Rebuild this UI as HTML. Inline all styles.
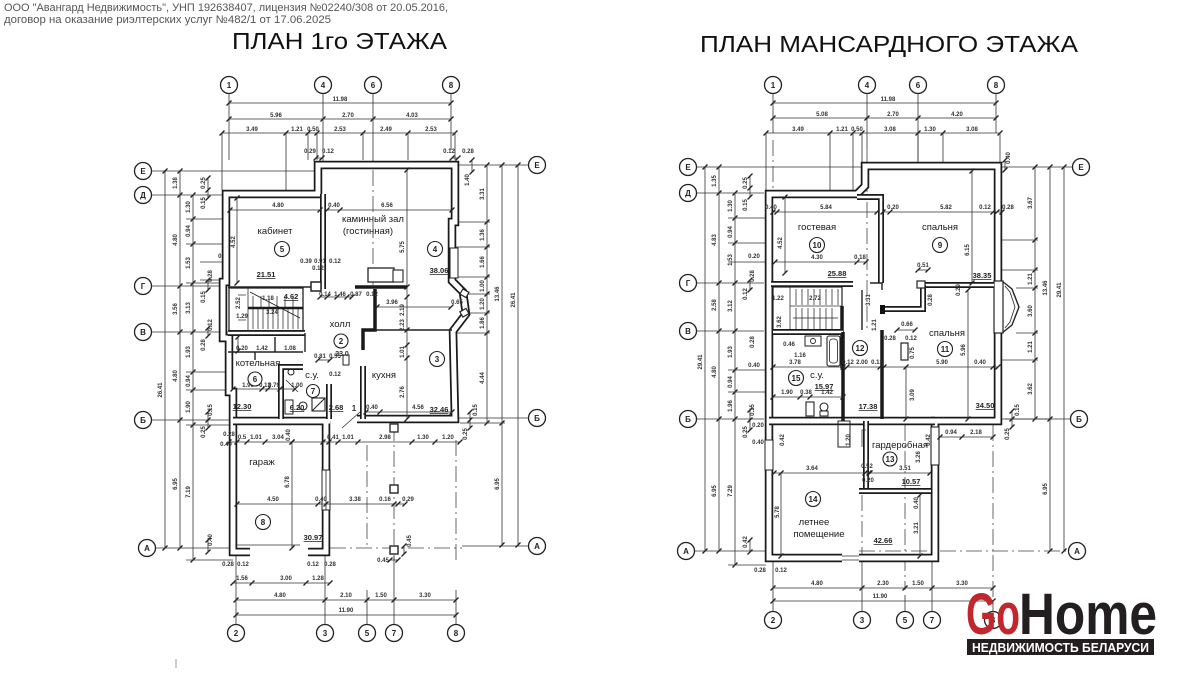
<!DOCTYPE html>
<html><head><meta charset="utf-8">
<style>
html,body{margin:0;padding:0;background:#fff;}
svg{display:block}
text{font-family:"Liberation Sans",Arial,sans-serif;fill:#222}
.hd{font-size:11px;fill:#555}
.ttl{font-size:23px;fill:#111}
.d{stroke:#333;stroke-width:0.8;fill:none}
.dm{fill:none;stroke:#333;stroke-width:0.8;marker-start:url(#k);marker-mid:url(#k);marker-end:url(#k)}
.ax{stroke:#444;stroke-width:0.8;fill:none;stroke-dasharray:16 4 2 4}
.c{fill:#fff;stroke:#222;stroke-width:1.3}
.cl{font-size:8px;font-weight:bold;text-anchor:middle}
.rc{fill:#fff;stroke:#222;stroke-width:1.1}
.rl{font-size:8px;text-anchor:middle;font-weight:bold}
.s{font-size:6px;text-anchor:middle;fill:#333;font-weight:bold}
.w1{fill:none;stroke:#1a1a1a;stroke-width:8.5;stroke-linejoin:miter}
.w2{fill:none;stroke:#fff;stroke-width:5;stroke-linejoin:miter}
.i1{fill:none;stroke:#1a1a1a;stroke-width:6}
.i2{fill:none;stroke:#fff;stroke-width:2.6}
.sl{fill:none;stroke:#222;stroke-width:1.4}
.th{fill:none;stroke:#1a1a1a;stroke-width:3.5}
.rm{font-size:9.5px;text-anchor:middle;fill:#1a1a1a}
.ar{font-size:7.5px;text-anchor:middle;font-weight:bold;fill:#222;text-decoration:underline}
</style></head>
<body>
<svg width="1200" height="675" viewBox="0 0 1200 675" xmlns="http://www.w3.org/2000/svg">
<defs>
<marker id="k" markerWidth="8" markerHeight="8" refX="4" refY="4" markerUnits="userSpaceOnUse"><path d="M1.5 6.5 L6.5 1.5" stroke="#222" stroke-width="1.3"/></marker>
</defs>
<rect width="1200" height="675" fill="#fff"/>

<!-- header -->
<text class="hd" x="4" y="11" textLength="444" lengthAdjust="spacingAndGlyphs">ООО "Авангард Недвижимость", УНП 192638407, лицензия №02240/308 от 20.05.2016,</text>
<text class="hd" x="4" y="23" textLength="327" lengthAdjust="spacingAndGlyphs">договор на оказание риэлтерских услуг №482/1 от 17.06.2025</text>

<text class="ttl" x="232" y="49" textLength="215" lengthAdjust="spacingAndGlyphs">ПЛАН 1го ЭТАЖА</text>
<text class="ttl" x="700" y="52" textLength="378" lengthAdjust="spacingAndGlyphs">ПЛАН МАНСАРДНОГО ЭТАЖА</text>

<line x1="176" y1="659" x2="176" y2="668" stroke="#999" stroke-width="1"/>

<!-- ================= LEFT PLAN ================= -->
<g>
<path class="d" d="M229,94V150 M323,94V165 M373,94V165 M451,94V150 M229,148V160"/>
<path class="ax" d="M373,170V285"/>
<path class="d" d="M152,171H318 M152,195H222 M152,286H222 M152,332H228 M152,420H229 M152,548H232 M528,165H458 M528,418H459 M528,546H462"/>
<path class="ax" d="M330,548H462 M367,445V548 M456,440V560 M394,425V560"/>
<path class="d" d="M236,624V556 M325,624V556 M367,624V590 M394,624V556 M456,624V590"/>

<polyline class="dm" points="229,103 451,103"/>
<polyline class="dm" points="229,119 323,119 373,119 451,119"/>
<polyline class="dm" points="222,133 286,133 308,133 317,133 363,133 408,133 455,133"/>
<path class="d" d="M222,133V190 M286,133V190 M308,133V160 M317,133V160 M363,133V160 M408,133V160 M455,133V160"/>
<text class="s" x="340" y="101">11.98</text>
<text class="s" x="276" y="117">5.96</text><text class="s" x="348" y="117">2.70</text><text class="s" x="412" y="117">4.03</text>
<text class="s" x="252" y="131">3.49</text><text class="s" x="297" y="131">1.21</text><text class="s" x="313" y="131">0.50</text><text class="s" x="340" y="131">2.53</text><text class="s" x="386" y="131">2.49</text><text class="s" x="431" y="131">2.53</text>
<text class="s" x="310" y="153">0.29</text><text class="s" x="328" y="153">0.12</text><text class="s" x="449" y="153">0.12</text><text class="s" x="468" y="153">0.28</text>
<polyline class="dm" points="316,158 322,158"/><polyline class="dm" points="452,158 458,158"/>

<polyline class="dm" points="165,171 165,548"/>
<text class="s" transform="translate(162,390) rotate(-90)">26.41</text>
<polyline class="dm" points="180,171 180,195 180,286 180,332 180,420 180,548"/>
<text class="s" transform="translate(177,183) rotate(-90)">1.38</text>
<text class="s" transform="translate(177,240) rotate(-90)">4.80</text>
<text class="s" transform="translate(177,309) rotate(-90)">3.56</text>
<text class="s" transform="translate(177,376) rotate(-90)">4.80</text>
<text class="s" transform="translate(177,484) rotate(-90)">6.95</text>
<polyline class="dm" points="193,195 193,219 193,244 193,283 193,332 193,372 193,390 193,425 193,560"/>
<text class="s" transform="translate(190,207) rotate(-90)">1.30</text>
<text class="s" transform="translate(190,231) rotate(-90)">0.94</text>
<text class="s" transform="translate(190,263) rotate(-90)">1.53</text>
<text class="s" transform="translate(190,308) rotate(-90)">3.13</text>
<text class="s" transform="translate(190,352) rotate(-90)">1.93</text>
<text class="s" transform="translate(190,381) rotate(-90)">0.94</text>
<text class="s" transform="translate(190,407) rotate(-90)">1.90</text>
<text class="s" transform="translate(190,492) rotate(-90)">7.19</text>
<polyline class="dm" points="208,178 208,190 208,198"/>
<polyline class="dm" points="208,280 208,290"/>
<polyline class="dm" points="208,328 208,336"/>
<polyline class="dm" points="208,412 208,420 208,428"/>
<polyline class="dm" points="208,540 208,552"/>
<text class="s" transform="translate(205,183) rotate(-90)">0.25</text>
<text class="s" transform="translate(205,203) rotate(-90)">0.15</text>
<text class="s" x="224" y="258">0.70</text>
<text class="s" transform="translate(212,276) rotate(-90)">0.28</text>
<text class="s" transform="translate(205,297) rotate(-90)">0.15</text>
<text class="s" transform="translate(212,325) rotate(-90)">0.12</text>
<text class="s" transform="translate(205,345) rotate(-90)">0.28</text>
<text class="s" transform="translate(212,410) rotate(-90)">0.15</text>
<text class="s" transform="translate(205,432) rotate(-90)">0.25</text>
<text class="s" transform="translate(212,540) rotate(-90)">0.40</text>
<path class="d" d="M186,219H225 M186,244H225 M186,283H226 M186,372H229 M186,390H233 M186,425H233 M186,560H233 M200,262H222 M200,280H226"/>

<polyline class="dm" points="487,165 487,222 487,247 487,277 487,294 487,313 487,333 487,423"/>
<path class="d" d="M458,222H490 M456,247H490 M456,277H490 M468,294H490 M468,313H490 M456,333H490 M460,423H505"/>
<text class="s" transform="translate(484,194) rotate(-90)">3.31</text>
<text class="s" transform="translate(484,235) rotate(-90)">1.36</text>
<text class="s" transform="translate(484,262) rotate(-90)">1.66</text>
<text class="s" transform="translate(484,286) rotate(-90)">1.00</text>
<text class="s" transform="translate(484,304) rotate(-90)">1.20</text>
<text class="s" transform="translate(484,323) rotate(-90)">1.86</text>
<text class="s" transform="translate(484,378) rotate(-90)">4.44</text>
<polyline class="dm" points="502,165 502,423 502,545"/>
<text class="s" transform="translate(499,294) rotate(-90)">13.46</text>
<text class="s" transform="translate(499,484) rotate(-90)">6.95</text>
<polyline class="dm" points="518,165 518,545"/>
<text class="s" transform="translate(515,300) rotate(-90)">26.41</text>
<polyline class="dm" points="472,160 472,172"/>
<text class="s" transform="translate(469,180) rotate(-90)">1.40</text>
<polyline class="dm" points="470,412 470,420 470,428"/>
<text class="s" transform="translate(477,410) rotate(-90)">0.15</text>
<text class="s" transform="translate(467,434) rotate(-90)">0.25</text>

<path class="w1" d="M250,552 L233,552 L233,392 L229,392 L229,338 L223,338 L223,282 L226,282 L226,194 L318,194 L318,165 L455,165 L455,222 L452,222 L452,281 L463,292 L466,314 L453,331 L455,419 L357,419"/>
<path class="w2" d="M250,552 L233,552 L233,392 L229,392 L229,338 L223,338 L223,282 L226,282 L226,194 L318,194 L318,165 L455,165 L455,222 L452,222 L452,281 L463,292 L466,314 L453,331 L455,419 L357,419"/>
<path class="w1" d="M233,421 L330,421 M308,552 L326,552 L326,421"/>
<path class="w2" d="M233,421 L330,421 M308,552 L326,552 L326,421"/>
<rect x="461" y="290" width="7" height="6" fill="#fff" stroke="#222" stroke-width="1.2" transform="rotate(30 464 293)"/>
<rect x="461" y="310" width="7" height="6" fill="#fff" stroke="#222" stroke-width="1.2" transform="rotate(-30 464 313)"/>
<rect x="322" y="470" width="8" height="40" fill="#fff" stroke="#222" stroke-width="1"/>
<line x1="326" y1="470" x2="326" y2="510" stroke="#222" stroke-width="0.8"/>
<rect x="450" y="248" width="8" height="30" fill="#fff" stroke="#222" stroke-width="1"/>

<path class="i1" d="M323,194 L323,289"/><path class="i2" d="M323,194 L323,289"/>
<path class="sl" d="M228,287 L318,287"/>
<path class="th" d="M355,287 L407,287"/>
<rect x="368" y="268" width="26" height="14" fill="#fff" stroke="#222" stroke-width="1.3"/>
<rect x="393" y="270" width="10" height="12" fill="#fff" stroke="#222" stroke-width="1.1"/>
<rect x="311" y="282" width="10" height="9" fill="#fff" stroke="#222" stroke-width="1.5"/>
<path class="th" d="M375,289 L375,330 L363,330 L363,350"/>
<path class="i1" d="M363,366 L363,419"/><path class="i2" d="M363,366 L363,419"/>
<path class="i1" d="M228,333 L305,333"/><path class="i2" d="M228,333 L305,333"/>
<path class="sl" d="M228,352 L303,352 M305,333 L305,352"/>
<path class="i1" d="M281,419 L281,367 L303,367"/><path class="i2" d="M281,419 L281,367 L303,367"/>
<path class="i1" d="M329,384 L329,419"/><path class="i2" d="M329,384 L329,419"/>
<path class="sl" d="M375,330 L452,330"/>
<path class="sl" d="M255,352 L255,360 M275,337 L275,352"/>
<rect x="229" y="288" width="74" height="43" fill="none" stroke="#222" stroke-width="1.3"/>
<path class="d" d="M248,288V331 M253,309V329 M258,309V329 M263,309V329 M268,309V329 M273,309V329 M278,309V329 M283,309V329 M288,309V329 M293,309V329 M298,309V329 M253,296V307 M261,296V307 M269,296V307 M277,296V307 M285,296V307 M293,296V307"/>
<path class="th" d="M248,308 L303,308" style="stroke-width:2.5"/>
<path d="M250,292 L300,318" stroke="#222" stroke-width="0.9" fill="none"/>
<path class="d" d="M238,295H246 M238,320H246"/>
<rect x="285" y="400" width="8" height="14" fill="none" stroke="#222" stroke-width="1"/>
<circle cx="303" cy="406" r="4" fill="none" stroke="#222" stroke-width="1.1"/>
<rect x="312" y="398" width="13" height="13" fill="none" stroke="#222" stroke-width="1.1"/>
<path d="M312,411 L325,398" stroke="#222" stroke-width="1"/>
<circle cx="291" cy="372" r="3" fill="none" stroke="#222" stroke-width="1"/>
<rect x="343" y="355" width="6" height="10" fill="#fff" stroke="#222" stroke-width="1"/>
<path class="d" d="M342,428 L360,412 M286,380 L298,392"/>
<text class="s" x="354" y="411" style="font-size:8px">1</text>

<polyline class="dm" points="230,210 320,210"/>
<polyline class="dm" points="327,210 340,210 452,210"/>
<text class="s" x="278" y="207">4.80</text><text class="s" x="334" y="207">0.40</text><text class="s" x="387" y="207">6.56</text>
<polyline class="dm" points="407,170 407,287 407,297 407,330 407,345 407,358 407,419"/>
<text class="s" transform="translate(404,247) rotate(-90)">5.75</text>
<text class="s" transform="translate(404,310) rotate(-90)">2.19</text>
<text class="s" transform="translate(404,325) rotate(-90)">2.23</text>
<text class="s" transform="translate(404,352) rotate(-90)">1.01</text>
<text class="s" transform="translate(404,392) rotate(-90)">2.76</text>
<polyline class="dm" points="237,198 237,283"/>
<text class="s" transform="translate(235,242) rotate(-90)">4.52</text>
<polyline class="dm" points="377,307 451,307"/>
<text class="s" x="392" y="304">3.96</text><text class="s" x="457" y="304">0.65</text>
<polyline class="dm" points="320,297 327,297 337,297 347,297 352,297"/>
<text class="s" x="325" y="296">0.14</text><text class="s" x="340" y="296">1.46</text><text class="s" x="356" y="296">0.87</text><text class="s" x="372" y="296">0.12</text>
<text class="s" x="320" y="263">0.91</text><text class="s" x="335" y="263">0.12</text><text class="s" x="306" y="263">0.39</text><text class="s" x="318" y="270">0.12</text>
<polyline class="dm" points="233,389 262,389 268,389 280,389 295,389"/>
<text class="s" x="248" y="387">1.90</text><text class="s" x="265" y="387">0.13</text><text class="s" x="274" y="387">0.79</text><text class="s" x="297" y="387">1.00</text>
<polyline class="dm" points="318,360 330,360"/>
<text class="s" x="320" y="358">0.81</text><text class="s" x="335" y="358">0.55</text><text class="s" x="335" y="376">0.12</text>
<polyline class="dm" points="366,412 380,412 452,412"/>
<text class="s" x="372" y="409">0.40</text><text class="s" x="418" y="409">4.56</text>
<polyline class="dm" points="238,337 238,351"/>
<text class="s" x="242" y="350">0.20</text><text class="s" x="262" y="350">1.42</text><text class="s" x="290" y="350">1.08</text>
<text class="s" x="242" y="318">1.29</text><text class="s" transform="translate(240,303) rotate(-90)">2.52</text>
<text class="s" x="272" y="314">3.24</text><text class="s" x="268" y="300">1.18</text>

<polyline class="dm" points="229,442 237,442 247,442 265,442 292,442 323,442 329,442 338,442 358,442 412,442 435,442 460,442"/>
<text class="s" x="242" y="439">0.5</text><text class="s" x="256" y="439">1.01</text><text class="s" x="278" y="439">3.04</text>
<text class="s" x="333" y="439">0.41</text><text class="s" x="348" y="439">1.01</text><text class="s" x="385" y="439">2.98</text><text class="s" x="423" y="439">1.30</text><text class="s" x="448" y="439">1.20</text>
<text class="s" x="229" y="436">0.28</text><text class="s" x="226" y="446">0.40</text>
<text class="s" transform="translate(290,435) rotate(-90)">0.40</text>
<rect x="390" y="424" width="8" height="8" fill="#fff" stroke="#222" stroke-width="1.3"/>
<polyline class="dm" points="237,504 318,504 326,504 394,504 398,504 405,504"/>
<text class="s" x="273" y="501">4.50</text><text class="s" x="321" y="501">0.40</text><text class="s" x="355" y="501">3.38</text><text class="s" x="385" y="501">0.16</text><text class="s" x="408" y="501">0.29</text>
<polyline class="dm" points="292,442 292,548"/>
<text class="s" transform="translate(289,482) rotate(-90)">6.78</text>
<rect x="390" y="485" width="8" height="8" fill="#fff" stroke="#222" stroke-width="1.4"/>
<rect x="390" y="546" width="8" height="8" fill="#fff" stroke="#222" stroke-width="1.4"/>
<polyline class="dm" points="404,546 404,554"/>
<text class="s" transform="translate(411,541) rotate(-90)">0.45</text>
<polyline class="dm" points="390,560 398,560"/>
<text class="s" x="383" y="562">0.45</text>
<path class="d" d="M237,545 H300"/>
<text class="s" x="228" y="566">0.28</text><text class="s" x="243" y="566">0.12</text><text class="s" x="313" y="566">0.12</text><text class="s" x="330" y="566">0.28</text>
<polyline class="dm" points="233,583 252,583 306,583 330,583"/>
<text class="s" x="242" y="580">1.56</text><text class="s" x="286" y="580">3.00</text><text class="s" x="318" y="580">1.28</text>
<polyline class="dm" points="236,600 325,600 367,600 394,600 456,600"/>
<text class="s" x="280" y="597">4.80</text><text class="s" x="346" y="597">2.10</text><text class="s" x="381" y="597">1.50</text><text class="s" x="425" y="597">3.30</text>
<polyline class="dm" points="236,615 456,615"/>
<text class="s" x="346" y="612">11.90</text>

<text class="rm" x="275" y="234">кабинет</text>
<circle class="rc" cx="282" cy="249" r="7.5"/><text class="rl" x="282" y="252">5</text>
<text class="ar" x="266" y="277">21.51</text>
<text class="rm" x="373" y="222">каминный зал</text>
<text class="rm" x="368" y="234">(гостинная)</text>
<circle class="rc" cx="435" cy="249" r="7.5"/><text class="rl" x="435" y="252">4</text>
<text class="ar" x="439" y="273">38.06</text>
<text class="rm" x="340" y="327">холл</text>
<circle class="rc" cx="341" cy="341" r="7"/><text class="rl" x="341" y="344">2</text>
<text class="s" x="342" y="356" style="font-size:7px">23.0</text>
<text class="rm" x="258" y="366">котельная</text>
<circle class="rc" cx="255" cy="379" r="7"/><text class="rl" x="255" y="382">6</text>
<text class="rm" x="312" y="378">с.у.</text>
<circle class="rc" cx="313" cy="391" r="6.5"/><text class="rl" x="313" y="394">7</text>
<text class="rm" x="384" y="378">кухня</text>
<circle class="rc" cx="437" cy="359" r="7.5"/><text class="rl" x="437" y="362">3</text>
<text class="ar" x="439" y="412">32.46</text>
<text class="ar" x="242" y="409">12.30</text>
<text class="ar" x="297" y="410">6.20</text>
<text class="ar" x="336" y="410">2.68</text>
<text class="ar" x="291" y="299">4.62</text>
<text class="rm" x="262" y="465">гараж</text>
<circle class="rc" cx="263" cy="522" r="7.5"/><text class="rl" x="263" y="525">8</text>
<text class="ar" x="313" y="540">30.97</text>

<circle class="c" cx="229" cy="85" r="8.5"/><text class="cl" x="229" y="88">1</text>
<circle class="c" cx="323" cy="85" r="8.5"/><text class="cl" x="323" y="88">4</text>
<circle class="c" cx="373" cy="85" r="8.5"/><text class="cl" x="373" y="88">6</text>
<circle class="c" cx="451" cy="85" r="8.5"/><text class="cl" x="451" y="88">8</text>
<circle class="c" cx="143" cy="171" r="8.5"/><text class="cl" x="143" y="174">Е</text>
<circle class="c" cx="143" cy="195" r="8.5"/><text class="cl" x="143" y="198">Д</text>
<circle class="c" cx="143" cy="286" r="8.5"/><text class="cl" x="143" y="289">Г</text>
<circle class="c" cx="143" cy="332" r="8.5"/><text class="cl" x="143" y="335">В</text>
<circle class="c" cx="143" cy="420" r="8.5"/><text class="cl" x="143" y="423">Б</text>
<circle class="c" cx="147" cy="548" r="8.5"/><text class="cl" x="147" y="551">А</text>
<circle class="c" cx="537" cy="165" r="8.5"/><text class="cl" x="537" y="168">Е</text>
<circle class="c" cx="537" cy="418" r="8.5"/><text class="cl" x="537" y="421">Б</text>
<circle class="c" cx="537" cy="546" r="8.5"/><text class="cl" x="537" y="549">А</text>
<circle class="c" cx="236" cy="633" r="8.5"/><text class="cl" x="236" y="636">2</text>
<circle class="c" cx="325" cy="633" r="8.5"/><text class="cl" x="325" y="636">3</text>
<circle class="c" cx="367" cy="633" r="8.5"/><text class="cl" x="367" y="636">5</text>
<circle class="c" cx="394" cy="633" r="8.5"/><text class="cl" x="394" y="636">7</text>
<circle class="c" cx="456" cy="633" r="8.5"/><text class="cl" x="456" y="636">8</text>
</g>

<!-- ================= RIGHT PLAN ================= -->
<g>
<path class="d" d="M773,94V133 M867,94V150 M918,94V166 M996,94V133"/>
<path class="ax" d="M773,140V190 M867,150V330 M862,495V558 M905,425V590 M993,425V600"/>
<path class="d" d="M697,167H866 M1072,167H1002 M697,193H764 M697,283H764 M697,331H764 M697,419H764 M1070,419H1002 M695,551H765"/>
<path class="ax" d="M940,551H1068 M859,551H935"/>
<path class="d" d="M773,611V562 M862,611V560 M905,611V595 M932,611V562 M993,611V600"/>

<polyline class="dm" points="773,103 996,103"/>
<polyline class="dm" points="773,118 867,118 918,118 996,118"/>
<polyline class="dm" points="766,133 830,133 853,133 862,133 918,133 943,133 1000,133"/>
<path class="d" d="M766,133V190 M830,133V194 M853,133V190 M862,133V162 M918,133V162 M943,133V162 M1000,133V162"/>
<text class="s" x="888" y="101">11.98</text>
<text class="s" x="822" y="116">5.08</text><text class="s" x="893" y="116">2.70</text><text class="s" x="957" y="116">4.20</text>
<text class="s" x="798" y="131">3.49</text><text class="s" x="842" y="131">1.21</text><text class="s" x="857" y="131">0.50</text><text class="s" x="890" y="131">3.08</text><text class="s" x="930" y="131">1.30</text><text class="s" x="972" y="131">3.08</text>
<polyline class="dm" points="1005,160 1005,170"/>
<text class="s" transform="translate(1010,158) rotate(-90)">0.40</text>

<polyline class="dm" points="705,167 705,551"/>
<text class="s" transform="translate(702,362) rotate(-90)">29.41</text>
<polyline class="dm" points="719,167 719,193 719,283 719,331 719,419 719,551"/>
<text class="s" transform="translate(716,181) rotate(-90)">1.35</text>
<text class="s" transform="translate(716,240) rotate(-90)">4.83</text>
<text class="s" transform="translate(716,305) rotate(-90)">2.58</text>
<text class="s" transform="translate(716,372) rotate(-90)">4.80</text>
<text class="s" transform="translate(716,491) rotate(-90)">6.95</text>
<polyline class="dm" points="735,193 735,218 735,243 735,283 735,331 735,370 735,392 735,419 735,565"/>
<text class="s" transform="translate(732,206) rotate(-90)">1.30</text>
<text class="s" transform="translate(732,232) rotate(-90)">0.94</text>
<text class="s" transform="translate(732,260) rotate(-90)">1.53</text>
<text class="s" transform="translate(732,306) rotate(-90)">3.12</text>
<text class="s" transform="translate(732,352) rotate(-90)">1.93</text>
<text class="s" transform="translate(732,382) rotate(-90)">0.94</text>
<text class="s" transform="translate(732,406) rotate(-90)">1.96</text>
<text class="s" transform="translate(732,491) rotate(-90)">7.29</text>
<polyline class="dm" points="750,176 750,188 750,197"/>
<polyline class="dm" points="750,280 750,290"/>
<polyline class="dm" points="750,410 750,420 750,430"/>
<polyline class="dm" points="750,540 750,552"/>
<text class="s" transform="translate(747,183) rotate(-90)">0.25</text>
<text class="s" transform="translate(747,205) rotate(-90)">0.15</text>
<text class="s" x="754" y="258">0.20</text>
<text class="s" transform="translate(754,276) rotate(-90)">0.28</text>
<text class="s" transform="translate(747,294) rotate(-90)">0.12</text>
<text class="s" transform="translate(754,342) rotate(-90)">0.28</text>
<text class="s" x="754" y="367">0.40</text>
<text class="s" transform="translate(754,410) rotate(-90)">0.15</text>
<text class="s" transform="translate(747,432) rotate(-90)">0.25</text>
<text class="s" x="758" y="427">0.20</text>
<text class="s" x="758" y="444">0.40</text>
<text class="s" transform="translate(747,542) rotate(-90)">0.42</text>
<path class="d" d="M728,218H766 M728,243H766 M728,262H766 M728,370H766 M728,392H766 M728,565H766"/>

<polyline class="dm" points="1035,167 1035,240 1035,270 1035,288 1035,333 1035,360 1035,419"/>
<path class="d" d="M1002,240H1038 M1002,270H1038 M1016,288H1038 M1016,333H1038 M1002,360H1038 M1005,419H1052"/>
<text class="s" transform="translate(1032,203) rotate(-90)">3.67</text>
<text class="s" transform="translate(1032,279) rotate(-90)">1.21</text>
<text class="s" transform="translate(1032,311) rotate(-90)">3.60</text>
<text class="s" transform="translate(1032,347) rotate(-90)">1.21</text>
<text class="s" transform="translate(1032,389) rotate(-90)">3.62</text>
<polyline class="dm" points="1050,167 1050,419 1050,551"/>
<text class="s" transform="translate(1047,288) rotate(-90)">13.46</text>
<text class="s" transform="translate(1047,489) rotate(-90)">6.95</text>
<polyline class="dm" points="1064,167 1064,551"/>
<text class="s" transform="translate(1061,290) rotate(-90)">29.41</text>
<polyline class="dm" points="1012,411 1012,419 1012,427"/>
<text class="s" transform="translate(1019,410) rotate(-90)">0.15</text>
<text class="s" transform="translate(1009,434) rotate(-90)">0.25</text>

<path class="w1" d="M842,558 L769,558 L769,194 L857,194 L865,186 L865,166 L998,166 L998,421 L935,421 L935,558 L859,558"/>
<path class="w2" d="M842,558 L769,558 L769,194 L857,194 L865,186 L865,166 L998,166 L998,421 L935,421 L935,558 L859,558"/>
<path class="w1" d="M769,421 L935,421"/><path class="w2" d="M769,421 L935,421"/>
<path class="d" d="M842,556 H859 M842,560 H859"/>
<path d="M1002,281 L1012,289 L1019,307 L1012,325 L1002,333" fill="#fff" stroke="#222" stroke-width="1.4"/>
<path d="M1005,286 L1010,292 L1015,307 L1010,322 L1005,328" fill="none" stroke="#222" stroke-width="0.8"/>
<rect x="994" y="281" width="9" height="52" fill="#fff" stroke="#222" stroke-width="1.2"/>
<rect x="931" y="427" width="8" height="38" fill="#fff" stroke="#222" stroke-width="1.1"/>
<rect x="765" y="440" width="8" height="30" fill="#fff" stroke="#222" stroke-width="1"/>

<path class="i1" d="M857,197 L881,197 L881,283"/><path class="i2" d="M857,197 L881,197 L881,283"/>
<path class="i1" d="M771,284 L853,284"/><path class="i2" d="M771,284 L853,284"/>
<path class="sl" d="M870,283 L882,283 L882,290"/>
<path class="i1" d="M920,285 L994,285"/><path class="i2" d="M920,285 L994,285"/>
<path class="i1" d="M923,285 L923,309 L884,309"/><path class="i2" d="M923,285 L923,309 L884,309"/>
<rect x="880" y="305" width="5" height="9" fill="#111"/>
<rect x="917" y="281" width="8" height="7" fill="#fff" stroke="#222" stroke-width="1.2"/>
<path class="th" d="M882,330 L882,419"/>
<path class="sl" d="M862,290 V330"/>
<rect x="773" y="287" width="69" height="44" fill="none" stroke="#222" stroke-width="1.2"/>
<path class="d" d="M790,287V331 M790,306H842 M796,289V305 M802,289V305 M808,289V305 M814,289V305 M820,289V305 M826,289V305 M832,289V305 M838,289V305 M796,308V329 M802,308V329 M808,308V329 M814,308V329 M820,308V329 M826,308V329 M832,308V329"/>
<path d="M793,318 L838,318" stroke="#222" stroke-width="0.8"/>
<path class="th" d="M842,306 L842,368"/>
<path class="i1" d="M773,332 L843,332"/><path class="i2" d="M773,332 L843,332"/>
<path class="th" d="M843,332 L843,421"/>
<rect x="827" y="336" width="13" height="30" rx="2" fill="none" stroke="#222" stroke-width="1.1"/>
<rect x="829.5" y="339" width="8" height="24" rx="3" fill="none" stroke="#222" stroke-width="0.8"/>
<rect x="805" y="336" width="16" height="10" fill="none" stroke="#222" stroke-width="1"/>
<circle cx="813" cy="341" r="2.5" fill="none" stroke="#222" stroke-width="0.9"/>
<rect x="806" y="402" width="8" height="14" fill="none" stroke="#222" stroke-width="1.1"/>
<circle cx="824" cy="407" r="4" fill="none" stroke="#222" stroke-width="1.1"/>
<rect x="820" y="411" width="8" height="5" fill="none" stroke="#222" stroke-width="1"/>
<rect x="901" y="343" width="7" height="17" fill="#fff" stroke="#222" stroke-width="1.2"/>
<path class="i1" d="M866,421 L866,488"/><path class="i2" d="M866,421 L866,488"/>
<path class="i1" d="M859,491 L931,491"/><path class="i2" d="M859,491 L931,491"/>
<rect x="838" y="421" width="12" height="26" fill="none" stroke="#222" stroke-width="1"/>
<path class="d" d="M866,430H862 V447"/>

<polyline class="dm" points="773,212 777,212 877,212"/>
<polyline class="dm" points="883,212 890,212 993,212 997,212 1002,212"/>
<text class="s" x="771" y="209">0.40</text><text class="s" x="826" y="209">5.84</text><text class="s" x="893" y="209">0.20</text><text class="s" x="946" y="209">5.82</text><text class="s" x="985" y="209">0.12</text><text class="s" x="1008" y="209">0.28</text>
<polyline class="dm" points="785,197 785,273"/>
<text class="s" transform="translate(782,243) rotate(-90)">4.52</text>
<polyline class="dm" points="775,262 857,262 866,262"/>
<text class="s" x="860" y="259">0.18</text>
<polyline class="dm" points="972,171 972,283"/>
<text class="s" transform="translate(969,250) rotate(-90)">6.15</text>
<polyline class="dm" points="918,270 928,270"/>
<text class="s" x="923" y="267">0.51</text>
<text class="s" transform="translate(960,290) rotate(-90)">0.29</text>
<text class="s" transform="translate(932,300) rotate(-90)">0.28</text>
<polyline class="dm" points="773,367 843,367 847,367 880,367 884,367 993,367 998,367"/>
<text class="s" x="795" y="364">3.78</text><text class="s" x="848" y="364">0.12</text><text class="s" x="862" y="364">2.00</text><text class="s" x="877" y="364">0.12</text><text class="s" x="942" y="364">5.90</text><text class="s" x="980" y="364">0.40</text>
<polyline class="dm" points="773,397 800,397 810,397 843,397"/>
<text class="s" x="787" y="394">1.90</text><text class="s" x="806" y="394">0.38</text><text class="s" x="827" y="394">1.42</text>
<polyline class="dm" points="897,330 915,330"/>
<text class="s" x="907" y="326">0.66</text><text class="s" x="890" y="340">0.28</text><text class="s" x="911" y="340">0.12</text>
<polyline class="dm" points="906,367 906,419"/>
<text class="s" transform="translate(914,395) rotate(-90)">3.09</text>
<polyline class="dm" points="968,290 968,419"/>
<text class="s" transform="translate(965,350) rotate(-90)">5.96</text>
<text class="s" transform="translate(914,353) rotate(-90)">0.75</text>
<text class="s" transform="translate(870,300) rotate(-90)">3.31</text>
<text class="s" transform="translate(876,325) rotate(-90)">1.21</text>
<text class="s" x="789" y="346">0.46</text><text class="s" x="800" y="357">1.16</text>
<text class="s" x="778" y="300">1.22</text><text class="s" x="815" y="300">2.72</text><text class="s" transform="translate(781,322) rotate(-90)">3.62</text>
<polyline class="dm" points="940,437 962,437 993,437"/>
<text class="s" x="951" y="434">0.94</text><text class="s" x="976" y="434">2.18</text>
<text class="s" transform="translate(850,440) rotate(-90)">1.20</text>
<text class="s" transform="translate(930,440) rotate(-90)">0.42</text>
<text class="s" transform="translate(784,440) rotate(-90)">0.42</text>
<polyline class="dm" points="774,473 865,473 869,473"/>
<polyline class="dm" points="870,473 930,473"/>
<text class="s" x="812" y="470">3.64</text><text class="s" x="867" y="468">0.52</text><text class="s" x="905" y="470">3.51</text><text class="s" x="868" y="482">0.20</text>
<polyline class="dm" points="781,473 781,556"/>
<text class="s" transform="translate(779,512) rotate(-90)">5.78</text>
<polyline class="dm" points="920,495 920,556"/>
<text class="s" transform="translate(918,528) rotate(-90)">3.21</text>
<text class="s" transform="translate(918,503) rotate(-90)">0.40</text>
<text class="s" transform="translate(920,457) rotate(-90)">3.26</text>
<text class="s" x="760" y="572">0.28</text><text class="s" x="781" y="572">0.12</text>
<polyline class="dm" points="773,588 862,588 905,588 932,588 993,588"/>
<text class="s" x="817" y="585">4.80</text><text class="s" x="883" y="585">2.30</text><text class="s" x="918" y="585">1.50</text><text class="s" x="962" y="585">3.30</text>
<polyline class="dm" points="773,601 993,601"/>
<text class="s" x="880" y="598">11.90</text>

<text class="rm" x="817" y="230">гостевая</text>
<circle class="rc" cx="817" cy="245" r="7.5"/><text class="rl" x="817" y="248">10</text>
<text class="s" x="817" y="259">4.30</text>
<text class="ar" x="837" y="276">25.88</text>
<text class="rm" x="940" y="230">спальня</text>
<circle class="rc" cx="940" cy="245" r="7.5"/><text class="rl" x="940" y="248">9</text>
<text class="ar" x="982" y="278">38.35</text>
<text class="rm" x="947" y="336">спальня</text>
<circle class="rc" cx="945" cy="349" r="7.5"/><text class="rl" x="945" y="352">11</text>
<text class="ar" x="985" y="408">34.50</text>
<circle class="rc" cx="860" cy="348" r="7.5"/><text class="rl" x="860" y="351">12</text>
<text class="ar" x="868" y="409">17.38</text>
<text class="rm" x="817" y="378">с.у.</text>
<circle class="rc" cx="796" cy="378" r="7.5"/><text class="rl" x="796" y="381">15</text>
<text class="ar" x="824" y="389">15.97</text>
<text class="rm" x="900" y="448">гардеробная</text>
<circle class="rc" cx="890" cy="459" r="7"/><text class="rl" x="890" y="462">13</text>
<text class="ar" x="911" y="484">10.57</text>
<circle class="rc" cx="813" cy="499" r="7.5"/><text class="rl" x="813" y="502">14</text>
<text class="rm" x="814" y="525">летнее</text>
<text class="rm" x="819" y="537">помещение</text>
<text class="ar" x="883" y="543">42.66</text>

<circle class="c" cx="773" cy="85" r="8.5"/><text class="cl" x="773" y="88">1</text>
<circle class="c" cx="867" cy="85" r="8.5"/><text class="cl" x="867" y="88">4</text>
<circle class="c" cx="918" cy="85" r="8.5"/><text class="cl" x="918" y="88">6</text>
<circle class="c" cx="996" cy="85" r="8.5"/><text class="cl" x="996" y="88">8</text>
<circle class="c" cx="688" cy="167" r="8.5"/><text class="cl" x="688" y="170">Е</text>
<circle class="c" cx="688" cy="193" r="8.5"/><text class="cl" x="688" y="196">Д</text>
<circle class="c" cx="688" cy="283" r="8.5"/><text class="cl" x="688" y="286">Г</text>
<circle class="c" cx="688" cy="331" r="8.5"/><text class="cl" x="688" y="334">В</text>
<circle class="c" cx="688" cy="419" r="8.5"/><text class="cl" x="688" y="422">Б</text>
<circle class="c" cx="686" cy="551" r="8.5"/><text class="cl" x="686" y="554">А</text>
<circle class="c" cx="1081" cy="167" r="8.5"/><text class="cl" x="1081" y="170">Е</text>
<circle class="c" cx="1079" cy="419" r="8.5"/><text class="cl" x="1079" y="422">Б</text>
<circle class="c" cx="1077" cy="551" r="8.5"/><text class="cl" x="1077" y="554">А</text>
<circle class="c" cx="773" cy="620" r="8.5"/><text class="cl" x="773" y="623">2</text>
<circle class="c" cx="862" cy="620" r="8.5"/><text class="cl" x="862" y="623">3</text>
<circle class="c" cx="905" cy="620" r="8.5"/><text class="cl" x="905" y="623">5</text>
<circle class="c" cx="932" cy="620" r="8.5"/><text class="cl" x="932" y="623">7</text>
<circle class="c" cx="993" cy="620" r="8.5"/><text class="cl" x="993" y="623">8</text>
</g>

<!-- logo -->
<text x="966" y="634" font-size="58" font-weight="bold" style="fill:#c1272d;font-family:'Liberation Sans',Arial,sans-serif" textLength="54" lengthAdjust="spacingAndGlyphs">Go</text>
<text x="1019" y="634" font-size="58" font-weight="bold" style="fill:#231f20;font-family:'Liberation Sans',Arial,sans-serif" textLength="138" lengthAdjust="spacingAndGlyphs">Home</text>
<rect x="967" y="639" width="187" height="16" fill="#231f20"/>
<text x="972" y="652" font-size="12.5" font-weight="bold" style="fill:#fff" textLength="177" lengthAdjust="spacingAndGlyphs">НЕДВИЖИМОСТЬ БЕЛАРУСИ</text>
</svg>
</body></html>
